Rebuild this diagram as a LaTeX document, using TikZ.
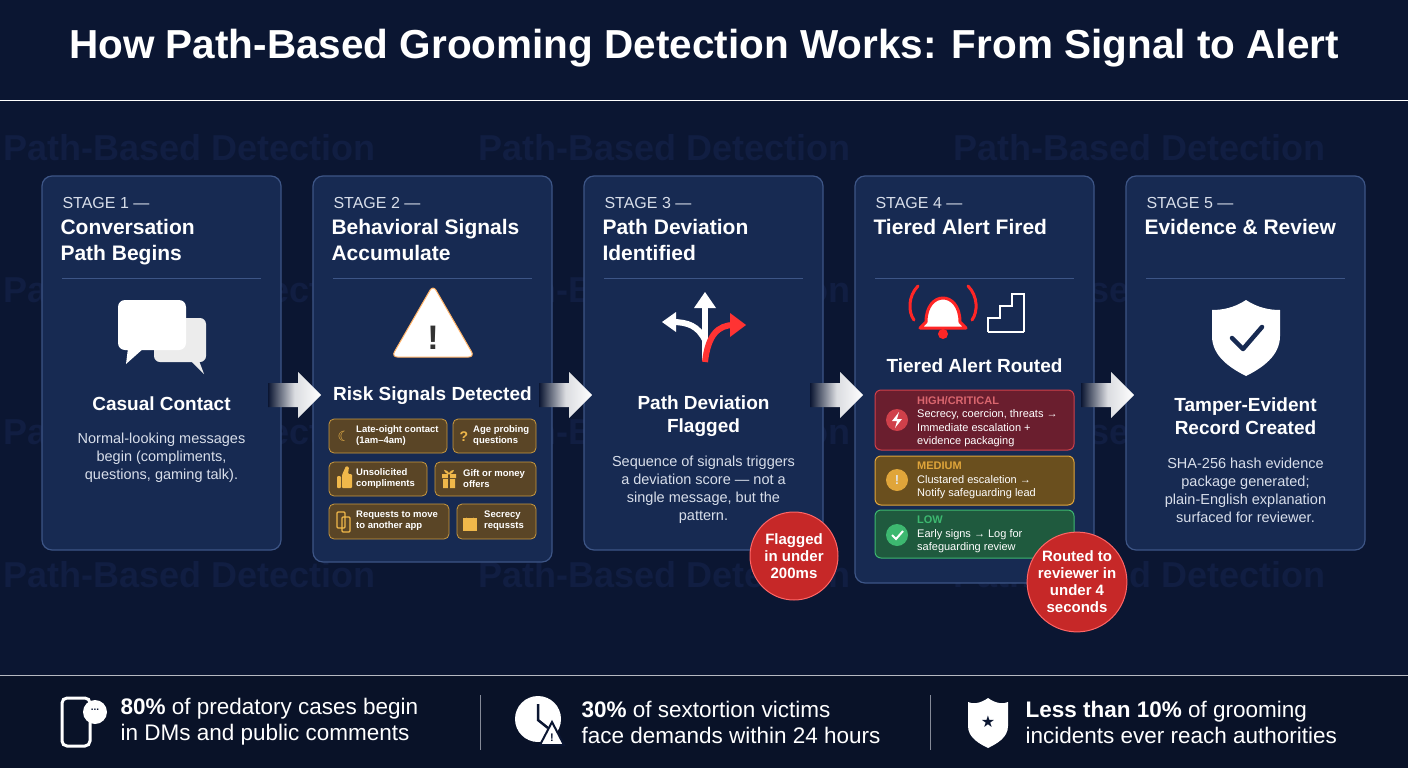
\documentclass[tikz,border=0pt]{standalone}
\usepackage{fontspec}
\setmainfont{Liberation Sans}
\newfontfamily\symf{DejaVu Sans}
\usetikzlibrary{shapes.geometric,shapes.arrows}
\definecolor{bg}{HTML}{0B1632}
\definecolor{card}{HTML}{172A52}
\definecolor{cardb}{HTML}{3D5586}
\definecolor{wm}{HTML}{111E42}
\definecolor{chip}{HTML}{5A4526}
\definecolor{chipb}{HTML}{C9993F}
\definecolor{chipi}{HTML}{F0B84A}
\definecolor{hi}{HTML}{6A1E2E}
\definecolor{hib}{HTML}{D0404A}
\definecolor{me}{HTML}{6A4F1E}
\definecolor{meb}{HTML}{E0A53A}
\definecolor{lo}{HTML}{1F5A3E}
\definecolor{lob}{HTML}{3DB870}
\definecolor{redc}{HTML}{C62828}
\definecolor{sub}{HTML}{D8DEEA}
\begin{document}
\begin{tikzpicture}[x=1pt,y=-1pt,
 cardst/.style={draw=cardb,line width=1.2pt,fill=card,rounded corners=10pt},
 stage/.style={anchor=west,text=sub,font=\fontsize{16}{18}\selectfont},
 ttl/.style={anchor=north west,text=white,align=left,font=\bfseries\fontsize{21}{26}\selectfont},
 head/.style={text=white,align=center,font=\bfseries\fontsize{19}{23}\selectfont},
 body/.style={text=sub,align=center,font=\fontsize{14.5}{18}\selectfont},
 chipst/.style={draw=chipb,fill=chip,rounded corners=5pt,line width=0.8pt},
 chiptx/.style={anchor=west,text=white,align=left,inner sep=0pt,font=\bfseries\fontsize{9.5}{11}\selectfont},
 flowst/.style={left color=bg,right color=white,middle color=white!85!bg},
 badge/.style={circle,fill=redc,draw=red!60!white,line width=1pt,text=white,align=center,font=\bfseries\fontsize{15}{17}\selectfont,inner sep=0pt},
 stat/.style={anchor=west,text=white,align=left,font=\fontsize{22.5}{26}\selectfont},
 wmk/.style={anchor=west,text=wm,font=\bfseries\fontsize{36}{36}\selectfont}]
\fill[bg] (0,0) rectangle (1408,768);
\useasboundingbox (0,0) rectangle (1408,768);
% watermark
\foreach \y in {148,290,432,575}{
 \foreach \x in {0,475,950}{\node[wmk] at (\x,\y) {Path-Based Detection};}}
\fill[bg] (0,0) rectangle (1408,100);
\node[text=white,font=\bfseries\fontsize{40.5}{44}\selectfont] (title) at (704,48) {How Path-Based Grooming Detection Works: From Signal to Alert};
\draw[white,line width=1pt] (0,100) -- (1408,100);
% bottom band
\fill[bg!80!black] (0,675) rectangle (1408,768);
\draw[white!70!bg,line width=1pt] (0,675) -- (1408,675);
% cards
\node[cardst,minimum width=239pt,minimum height=374pt] (c1) at (161.5,363) {};
\node[cardst,minimum width=239pt,minimum height=386pt] (c2) at (432.5,369) {};
\node[cardst,minimum width=239pt,minimum height=374pt] (c3) at (703.5,363) {};
\node[cardst,minimum width=239pt,minimum height=407pt] (c4) at (974.5,379.5) {};
\node[cardst,minimum width=239pt,minimum height=374pt] (c5) at (1245.5,363) {};
\foreach \x/\s/\t in {42/1/{Conversation\\Path Begins},313/2/{Behavioral Signals\\Accumulate},584/3/{Path Deviation\\Identified},855/4/{Tiered Alert Fired},1126/5/{Evidence \& Review}}{
 \node[stage] (s\s) at (\x+17,203) {STAGE \s\ —};
 \node[ttl] (t\s) at (\x+15,216) {\t};
 \draw[cardb] (\x+20,278) -- (\x+219,278);}
% flow arrows
\foreach \x in {268,539,810,1081}{
 \shade[flowst] (\x,383) -- (\x+30,383) -- (\x+30,372) -- (\x+53,395) -- (\x+30,418) -- (\x+30,407) -- (\x,407) -- cycle;}
% stage 1 icon chat bubbles
\fill[white!85!gray,rounded corners=6pt] (154,318) rectangle (206,362);
\fill[white!85!gray] (190,360) -- (204,374) -- (198,358) -- cycle;
\fill[white,rounded corners=7pt] (118,300) rectangle (186,350);
\fill[white] (128,348) -- (126,364) -- (144,348) -- cycle;
\node[head] (h1) at (161.5,404) {Casual Contact};
\node[body] (b1) at (161.5,458) {Normal-looking messages\\begin (compliments,\\questions, gaming talk).};
% stage 2 warning
\node[regular polygon,regular polygon sides=3,fill=white,rounded corners=6pt,minimum size=96pt,inner sep=0pt,draw=orange!60,line width=1pt] (warn) at (433,333) {};
\node[text=black!80,font=\bfseries\fontsize{34}{34}\selectfont] at (433,338) {!};
\node[head] (h2) at (432.5,396) {Risk Signals Detected};
\draw[chipst] (329,419) rectangle (447,453); \node[chiptx] at (356,436) {Late-oight contact\\(1am–4am)};
\node[text=chipi,font=\symf\fontsize{14}{14}\selectfont] at (344,436) {☾};
\draw[chipst] (453,419) rectangle (536,453); \node[chiptx] at (473,436) {Age probing\\questions};
\node[text=chipi,font=\bfseries\fontsize{14}{14}\selectfont] at (464,437) {?};
\draw[chipst] (329,462) rectangle (427,496); \node[chiptx] at (356,479) {Unsolicited\\compliments};
\fill[chipi,rounded corners=1pt] (337,476) rectangle (341,488) (342,475) -- (346,466) -- (349,467) -- (348,474) -- (352,474) -- (352,488) -- (342,488) -- cycle;
\draw[chipst] (435,462) rectangle (536,496); \node[chiptx] at (463,479) {Gift or money\\offers};
\fill[chipi] (442,474) rectangle (456,478) (443,479) rectangle (455,488);
\fill[chip] (448.3,473) rectangle (449.7,489);
\draw[chipi,line width=1pt] (449,474) .. controls (445,468) and (442,471) .. (449,474) .. controls (456,471) and (453,468) .. (449,474);
\draw[chipst] (329,504) rectangle (449,539); \node[chiptx] at (356,521) {Requests to move\\to another app};
\draw[chipi,line width=1.2pt,rounded corners=1pt] (337,512) rectangle (345,528) (342,517) rectangle (350,532);
\draw[chipst] (457,504) rectangle (536,539); \node[chiptx] at (484,521) {Secrecy\\requssts};
\fill[chipi] (463,518) rectangle (477,531); \draw[chipi,line width=1.6pt] (466,518) arc[start angle=180,end angle=0,radius=4];
% stage 3 fork
\draw[white,line width=6pt] (705,360) -- (705,305);
\fill[white] (694,308) -- (705,292) -- (716,308) -- cycle;
\draw[white,line width=6pt] (705,340) .. controls (698,326) and (688,322) .. (672,322);
\fill[white] (676,312) -- (662,322) -- (676,332) -- cycle;
\draw[red!80!white,line width=6pt] (705,362) .. controls (708,335) and (718,325) .. (734,325);
\fill[red!80!white] (730,313) -- (746,325) -- (730,337) -- cycle;
\node[head] (h3) at (703.5,416) {Path Deviation\\Flagged};
\node[body] (b3) at (703.5,490) {Sequence of signals triggers\\a deviation score — not a\\single message, but the\\pattern.};
\node[badge,minimum size=88pt] (f3) at (794,556) {Flagged\\in under\\200ms};
% stage 4 bell + stairs
\fill[white] (926,322) .. controls (926,290) and (960,290) .. (960,322) -- (966,328) -- (920,328) -- cycle;
\draw[red!85!white,line width=3pt,line join=round] (926,322) .. controls (926,290) and (960,290) .. (960,322) -- (966,328) -- (920,328) -- cycle;
\fill[red!85!white] (943,334) circle (5);
\draw[red!85!white,line width=3pt,line cap=round] (918,286) .. controls (908,296) and (908,312) .. (914,320) (968,286) .. controls (978,296) and (978,312) .. (972,320);
\draw[white,line width=2.5pt] (988,332) -- (988,318) -- (1000,318) -- (1000,306) -- (1012,306) -- (1012,294) -- (1024,294) -- (1024,332) (988,332)--(1024,332);
\node[head] (h4) at (974.5,366) {Tiered Alert Routed};
\foreach \y/\h/\f/\d in {390/450/hi/hib,456/505/me/meb,510/558/lo/lob}{\draw[fill=\f,draw=\d,rounded corners=6pt,line width=1pt] (875,\y) rectangle (1074,\h);}
\node[anchor=north west,align=left,inner sep=0pt,font=\fontsize{11}{13.5}\selectfont,text=white] (th) at (917,396) {{\color{hib!80!white}\bfseries HIGH/CRITICAL}\\Secrecy, coercion, threats →\\Immediate escalation +\\evidence packaging};
\node[anchor=north west,align=left,inner sep=0pt,font=\fontsize{11}{13.5}\selectfont,text=white] (tm) at (917,462) {{\color{meb}\bfseries MEDIUM}\\Clustared escaletion →\\Notify safeguarding lead};
\node[anchor=north west,align=left,inner sep=0pt,font=\fontsize{11}{13.5}\selectfont,text=white] (tl) at (917,516) {{\color{lob}\bfseries LOW}\\Early signs → Log for\\safeguarding review};
\fill[hib] (897,420) circle (11); \fill[white] (899,412) -- (892,421) -- (897,421) -- (895,428) -- (902,419) -- (897,419) -- cycle;
\fill[meb] (897,480) circle (11); \node[white!90!black,font=\bfseries\fontsize{13}{13}\selectfont] at (897,480) {!};
\fill[lob] (897,535) circle (11); \draw[white,line width=2pt] (892,535) -- (896,539) -- (903,531);
\node[badge,minimum size=96pt] (f4) at (1077,582) {Routed to\\reviewer in\\under 4\\seconds};
% stage 5 shield
\fill[white] (1246,300) .. controls (1258,308) and (1270,310) .. (1280,310) -- (1280,336) .. controls (1280,356) and (1262,368) .. (1246,376) .. controls (1230,368) and (1212,356) .. (1212,336) -- (1212,310) .. controls (1222,310) and (1234,308) .. (1246,300) -- cycle;
\draw[card,line width=4.5pt,line cap=round,line join=round] (1232,338) -- (1243,349) -- (1262,327);
\node[head] (h5) at (1245.5,416) {Tamper-Evident\\Record Created};
\node[body] (b5) at (1245.5,490) {SHA-256 hash evidence\\package generated;\\plain-English explanation\\surfaced for reviewer.};
% bottom stats
\draw[white,line width=3pt,rounded corners=5pt] (62,698) rectangle (90,746);
\fill[white] (95,712) circle (12); \node[bg,font=\bfseries\fontsize{10}{10}\selectfont] at (95,710) {...};
\node[stat] (st1) at (117,722) {\textbf{80\%} of predatory cases begin\\in DMs and public comments};
\draw[white!50!bg] (480,695) -- (480,750) (930,695) -- (930,750);
\fill[white] (538,719) circle (23); \draw[bg,line width=2.5pt] (538,704) -- (538,720) -- (548,728);
\fill[white,draw=bg,line width=2pt] (552,722) -- (564,745) -- (540,745) -- cycle;
\node[bg,font=\bfseries\fontsize{11}{11}\selectfont] at (552,738) {!};
\node[stat] (st2) at (578,722) {\textbf{30\%} of sextortion victims\\face demands within 24 hours};
\fill[white] (988,698) .. controls (996,704) and (1004,704) .. (1008,702) -- (1008,726) .. controls (1008,738) and (996,744) .. (988,748) .. controls (980,744) and (968,738) .. (968,726) -- (968,702) .. controls (972,704) and (980,704) .. (988,698) -- cycle;
\node[bg,font=\symf\fontsize{16}{16}\selectfont] at (988,722) {★};
\node[stat] (st3) at (1022,722) {\textbf{Less than 10\%} of grooming\\incidents ever reach authorities};
\end{tikzpicture}
\end{document}
